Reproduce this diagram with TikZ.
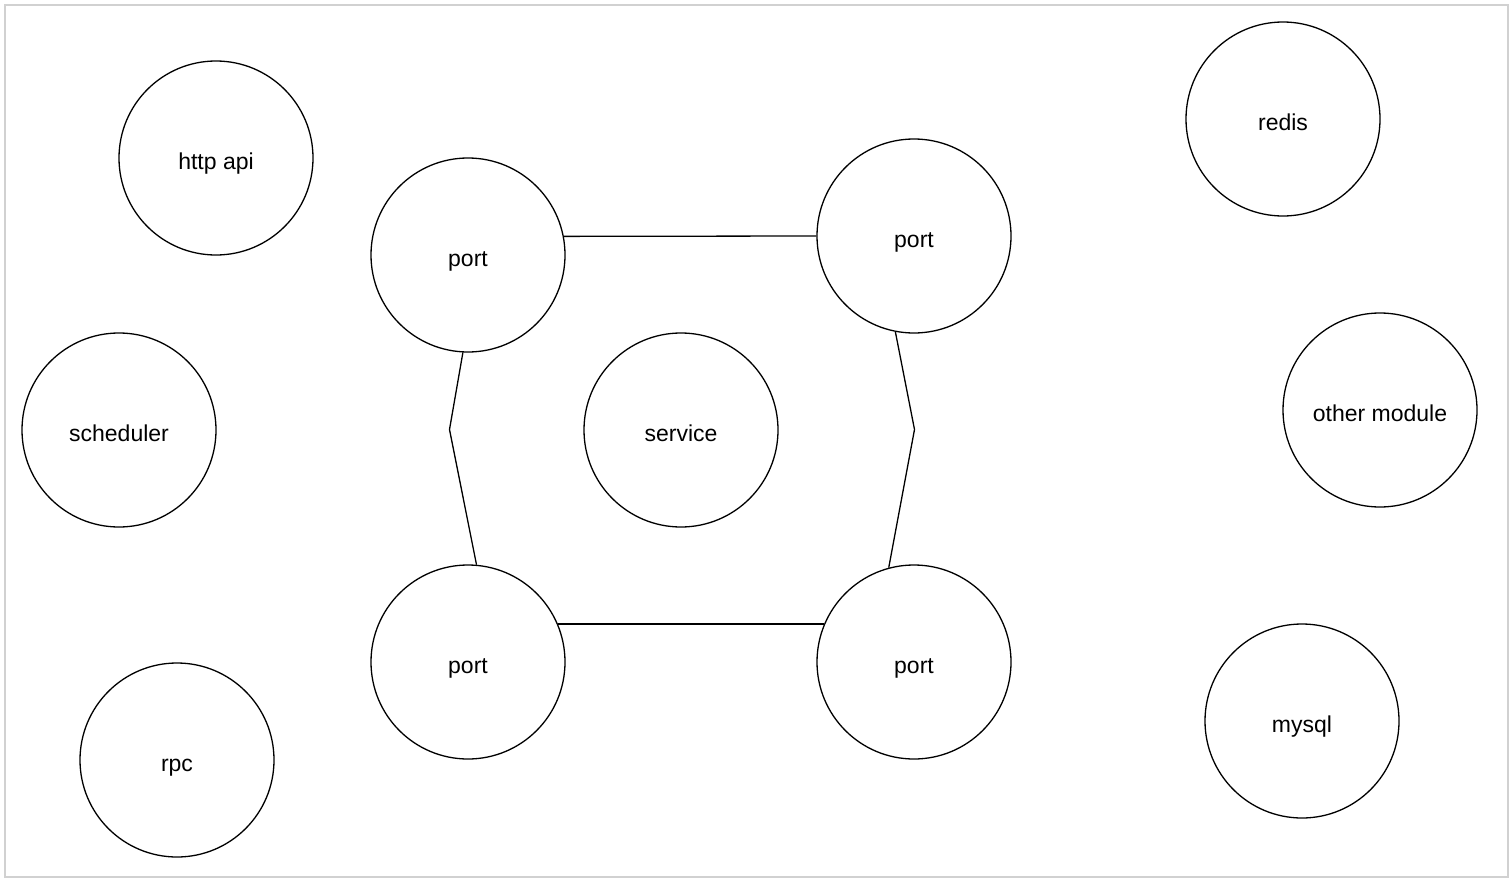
\documentclass[tikz,border=0pt]{standalone}
\usepackage{fontspec}
\setmainfont{Liberation Sans}
\usepackage{tikz}
\definecolor{frame}{rgb}{0.82,0.82,0.82}

\begin{document}
\begin{tikzpicture}[x=1pt,y=-1pt,
  blob/.style={draw, circle, line width=1.3pt, minimum size=194pt, inner sep=0pt,
    text height=23pt, text depth=0pt, font=\fontsize{23}{27}\selectfont},
  link/.style={line width=1.3pt}]
\useasboundingbox (0,0) rectangle (1512,878);
\draw[frame, line width=2pt] (5,5) rectangle (1508,877);
% adapters on the left
\node[blob] (http) at (216,158) {http api};
\node[blob] (sched) at (119,430) {scheduler};
\node[blob] (rpc) at (177,760) {rpc};
% the hexagon
\node[blob] (ptl) at (468,255) {port};
\node[blob] (ptr) at (914,236) {port};
\node[blob] (svc) at (681,430) {service};
\node[blob] (pbl) at (468,662) {port};
\node[blob] (pbr) at (914,662) {port};
% infrastructure on the right
\node[blob] (redis) at (1283,119) {redis};
\node[blob] (other) at (1380,410) {other module};
\node[blob] (mysql) at (1302,721) {mysql};
\coordinate (bendl) at (449.5,429.5);
\coordinate (bendr) at (914.5,429.5);
\draw[link] (ptl.11) -- (ptr.west);
\draw[link] (pbl.23) -- (pbr.157);
\draw[link] (ptl.267.5) -- (bendl) -- (pbl.85.5);
\draw[link] (ptr.259) -- (bendr) -- (pbr.105.5);
\end{tikzpicture}
\end{document}
